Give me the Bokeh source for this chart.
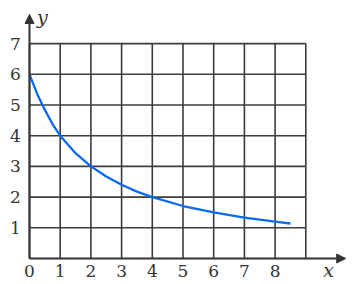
from bokeh.plotting import figure
from bokeh.models import Range1d, Arrow, NormalHead
from bokeh.core.properties import value
from bokeh.embed import file_html
from bokeh.resources import INLINE

# data
curve_x = [0, 0.25, 0.5, 0.75, 1, 1.5, 2, 2.5, 3, 3.5, 4, 5, 6, 7, 8, 8.5]
curve_y = [6, 5.36, 4.84, 4.38, 4, 3.43, 3, 2.67, 2.4, 2.18, 2, 1.71, 1.5, 1.33, 1.2, 1.14]
x_ticks = [0, 1, 2, 3, 4, 5, 6, 7, 8]
y_ticks = [1, 2, 3, 4, 5, 6, 7]
x_grid = [0, 1, 2, 3, 4, 5, 6, 7, 8, 9]
y_grid = [1, 2, 3, 4, 5, 6, 7]
x_max, y_max = 9, 7

W, H = 364, 284
ux = 30.7
x0px, y0px = 29, 258

p = figure(width=W, height=H, output_backend="svg", toolbar_location=None,
           x_range=Range1d(-x0px / ux, (W - x0px) / ux),
           y_range=Range1d(-(H - y0px) / ux, y0px / ux),
           min_border=0, min_border_left=0, min_border_right=0,
           min_border_top=0, min_border_bottom=0)
p.axis.visible = False
p.grid.visible = False
p.outline_line_color = None
p.background_fill_color = "white"
p.border_fill_color = "white"

gc = "#3c3c3c"
p.segment(x0=x_grid, y0=[0] * len(x_grid), x1=x_grid, y1=[y_max] * len(x_grid),
          line_color=gc, line_width=1.6)
p.segment(x0=[0] * len(y_grid), y0=y_grid, x1=[x_max] * len(y_grid), y1=y_grid,
          line_color=gc, line_width=1.6)

p.add_layout(Arrow(x_start=0, y_start=0, x_end=10.3, y_end=0, line_color="#333333", line_width=2,
                   end=NormalHead(size=9, fill_color="#333333", line_color="#333333", line_width=1)))
p.add_layout(Arrow(x_start=0, y_start=0, x_end=0, y_end=7.95, line_color="#333333", line_width=2,
                   end=NormalHead(size=9, fill_color="#333333", line_color="#333333", line_width=1)))

p.line(curve_x, curve_y, line_color="#0b6af2", line_width=2.3)

font = value("DejaVu Serif")
fs = value("17px")
p.text(x=x_ticks, y=[-0.4] * len(x_ticks), text=[str(t) for t in x_ticks],
       text_font=font, text_font_size=fs, text_align="center",
       text_baseline="middle", text_color="#333333")
p.text(x=[-0.46] * len(y_ticks), y=y_ticks, text=[str(t) for t in y_ticks],
       text_font=font, text_font_size=fs, text_align="center",
       text_baseline="middle", text_color="#333333")
p.text(x=[9.74], y=[-0.36], text=["x"], text_font=font, text_font_style="italic",
       text_font_size=value("19px"), text_align="center", text_baseline="middle", text_color="#333333")
p.text(x=[0.42], y=[7.88], text=["y"], text_font=font, text_font_style="italic",
       text_font_size=value("19px"), text_align="center", text_baseline="middle", text_color="#333333")

open("out.html", "w").write(file_html(p, INLINE))
